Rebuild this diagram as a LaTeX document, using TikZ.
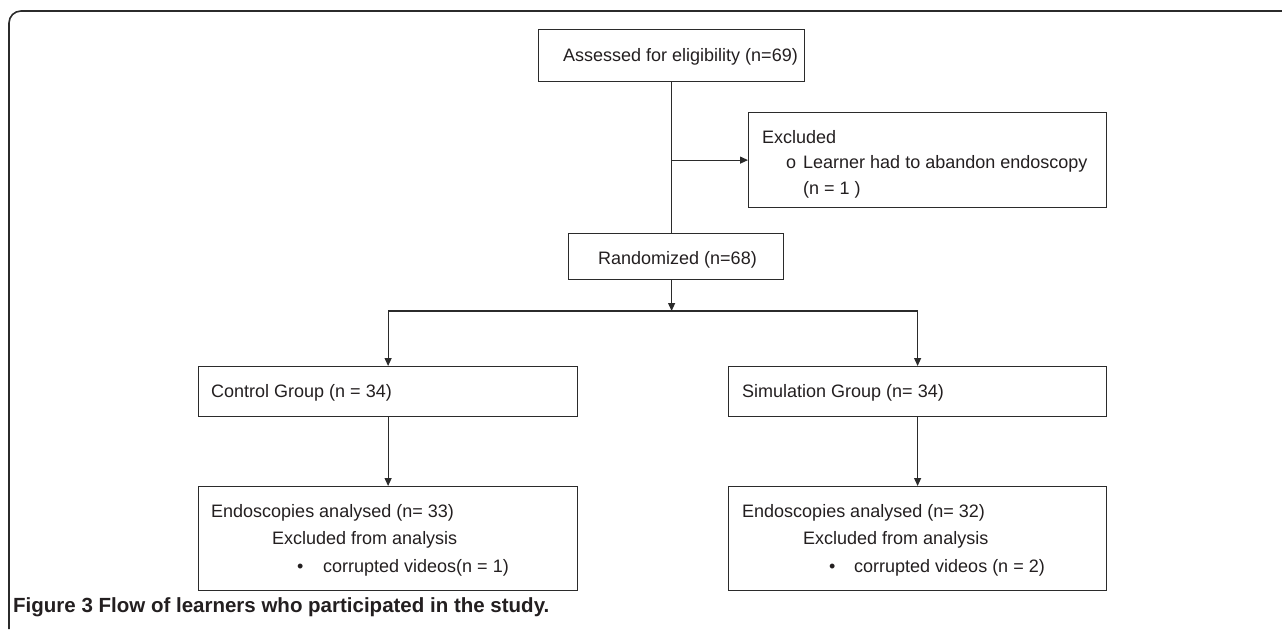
\documentclass[tikz,border=0pt]{standalone}
\usepackage{fontspec}
\setmainfont{Liberation Sans}
\usetikzlibrary{arrows.meta}
\definecolor{ln}{HTML}{2B2B2B}
\definecolor{tx}{HTML}{231F20}
\begin{document}
\begin{tikzpicture}[x=1pt,y=-1pt,
  boxn/.style={draw=ln,line width=1.2pt,anchor=north west,inner sep=0pt,fill=white},
  txt/.style={anchor=base west,inner sep=0pt,text=tx,font=\fontsize{18}{20}\selectfont},
  capt/.style={anchor=base west,inner sep=0pt,text=tx,font=\fontsize{20.5}{22}\selectfont\bfseries},
  conn/.style={draw=ln,line width=1.2pt},
  arr/.style={conn,-{Triangle[length=8pt,width=7pt]}},
  frame/.style={draw=ln,line width=1.6pt}
]
\useasboundingbox (0,0) rectangle (1282,629);
% outer frame (open on right and bottom)
\draw[frame,rounded corners=12pt] (9,629) -- (9,11) -- (1282,11);

% boxes
\node[boxn,minimum width=266pt,minimum height=52pt] (assess) at (538,29) {};
\node[boxn,minimum width=358pt,minimum height=95pt] (excl) at (748,112) {};
\node[boxn,minimum width=215pt,minimum height=46pt] (rand) at (568,233) {};
\node[boxn,minimum width=379pt,minimum height=50pt] (ctrl) at (198,366) {};
\node[boxn,minimum width=378pt,minimum height=50pt] (sim) at (728,366) {};
\node[boxn,minimum width=379pt,minimum height=104pt] (endoL) at (198,486) {};
\node[boxn,minimum width=378pt,minimum height=104pt] (endoR) at (728,486) {};

% texts
\node[txt] (tA) at (563,61) {Assessed for eligibility (n=69)};
\node[txt] (tE1) at (762,143) {Excluded};
\node[txt] (tE2) at (786,168) {o};
\node[txt] (tE3) at (803,168) {Learner had to abandon endoscopy};
\node[txt] (tE4) at (803,194) {(n = 1 )};
\node[txt] (tR) at (598,264) {Randomized (n=68)};
\node[txt] (tC) at (211,397) {Control Group (n = 34)};
\node[txt] (tS) at (742,397) {Simulation Group (n= 34)};
\node[txt] (tL1) at (211,517) {Endoscopies analysed (n= 33)};
\node[txt] (tL2) at (272,544) {Excluded from analysis};
\node[txt] (tL3) at (297,572) {\textbullet};
\node[txt] (tL4) at (323,572) {corrupted videos(n = 1)};
\node[txt] (tR1) at (742,517) {Endoscopies analysed (n= 32)};
\node[txt] (tR2) at (803,544) {Excluded from analysis};
\node[txt] (tR3) at (829,572) {\textbullet};
\node[txt] (tR4) at (854,572) {corrupted videos (n = 2)};

% caption
\node[capt] (cap) at (13,612) {Figure 3 Flow of learners who participated in the study.};

% connectors
\coordinate (rtop) at (assess.south |- rand.north);
\coordinate (rbot) at (assess.south |- rand.south);
\coordinate (br) at (assess.south |- excl.west);
\draw[conn] (assess.south) -- (rtop);
\draw[arr] (br) -- (excl.west);
\coordinate (hm) at (assess.south |- 0,311);
\draw[arr] (rbot) -- (hm);
\coordinate (hl) at (ctrl.north |- 0,311);
\coordinate (hr) at (sim.north |- 0,311);
\draw[conn] (hl) -- (hr);
\draw[arr] (hl) -- (ctrl.north);
\draw[arr] (hr) -- (sim.north);
\draw[arr] (ctrl.south) -- (endoL.north);
\draw[arr] (sim.south) -- (endoR.north);
\end{tikzpicture}
\end{document}
